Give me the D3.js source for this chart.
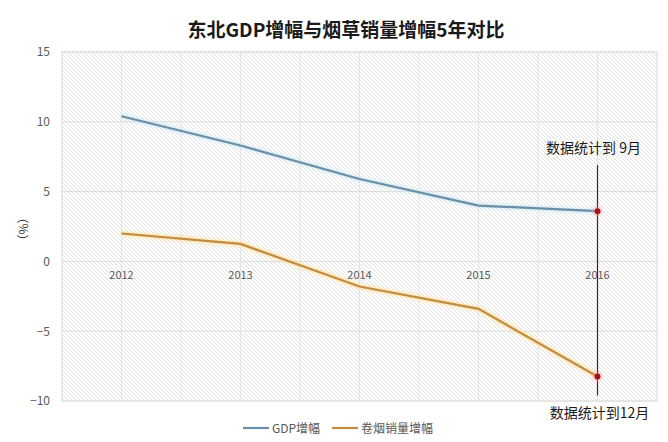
<!DOCTYPE html>
<html><head><meta charset="utf-8">
<script src="https://cdn.jsdelivr.net/npm/d3@7"></script>
<style>html,body{margin:0;padding:0;background:#fff;}svg{display:block;}</style>
</head><body>
<svg id="chart" width="668" height="442"></svg>
<script>
const categories = ["2012","2013","2014","2015","2016"];
const gdpGrowth = [10.4, 8.3, 5.9, 4.0, 3.6];
const tobaccoGrowth = [2.0, 1.25, -1.8, -3.4, -8.25];
const yTicks = [-10, -5, 0, 5, 10, 15];
const seriesNames = ["GDP增幅", "卷烟销量增幅"];
const titleText = "东北GDP增幅与烟草销量增幅5年对比";
const noteTop = "数据统计到 9月";
const noteBottom = "数据统计到12月";

(function () {
const svg = d3.select("#chart");
const font = "'Microsoft YaHei','Noto Sans CJK SC',sans-serif";
const pLeft = 62, pRight = 657, pTop = 52, pBottom = 401;

const x = d3.scaleBand().domain(categories).range([pLeft, pRight]).padding(0);
const y = d3.scaleLinear().domain([-10, 15]).range([pBottom, pTop]);

// hatch pattern
const defs = svg.append("defs");
const pat = defs.append("pattern").attr("id", "hatch").attr("patternUnits", "userSpaceOnUse")
  .attr("width", 4).attr("height", 4);
pat.append("rect").attr("width", 4).attr("height", 4).attr("fill", "#fff");
pat.append("path").attr("d", "M-1,-1 L5,5 M-1,3 L1,5 M3,-1 L5,1").attr("stroke", "#dadada").attr("stroke-width", 0.8);

const glowB = defs.append("filter").attr("id", "glowB").attr("x", "-5%").attr("y", "-20%").attr("width", "110%").attr("height", "140%");
glowB.append("feGaussianBlur").attr("stdDeviation", 1.5);

svg.append("rect").attr("x", pLeft).attr("y", pTop).attr("width", pRight - pLeft).attr("height", pBottom - pTop)
  .attr("fill", "url(#hatch)").attr("stroke", "#e4e4e4");

// gridlines: vertical every half band
const half = x.bandwidth() / 2;
const vx = [];
for (let i = 0; i <= categories.length * 2; i++) vx.push(pLeft + i * half);
svg.append("g").selectAll("line").data(vx).join("line")
  .attr("x1", d => d).attr("x2", d => d).attr("y1", pTop).attr("y2", pBottom)
  .attr("stroke", "#e4e4e4").attr("stroke-width", 1);
svg.append("g").selectAll("line").data(yTicks).join("line")
  .attr("x1", pLeft).attr("x2", pRight).attr("y1", d => y(d)).attr("y2", d => y(d))
  .attr("stroke", "#dcdcdc").attr("stroke-width", 1);

// y axis labels
const yAxis = d3.axisLeft(y).tickValues(yTicks).tickSize(0).tickPadding(0);
const yg = svg.append("g").attr("transform", `translate(${pLeft - 12},0)`).call(yAxis);
yg.select(".domain").remove();
yg.selectAll("text").attr("font-family", font).attr("font-size", 12).attr("fill", "#595959");

// x axis labels at y=0
const xAxis = d3.axisBottom(x).tickSize(0).tickPadding(10);
const xg = svg.append("g").attr("transform", `translate(0,${y(0)})`).call(xAxis);
xg.select(".domain").remove();
xg.selectAll("text").attr("font-family", font).attr("font-size", 11).attr("fill", "#595959");

// lines
const line = d3.line().x((d, i) => x(categories[i]) + half).y(d => y(d));
svg.append("path").datum(gdpGrowth).attr("d", line).attr("fill", "none")
  .attr("stroke", "#c6e6f2").attr("stroke-width", 5).attr("opacity", 0.7).attr("filter", "url(#glowB)");
svg.append("path").datum(gdpGrowth).attr("d", line).attr("fill", "none")
  .attr("stroke", "#6a8fa6").attr("stroke-width", 2.2);
svg.append("path").datum(tobaccoGrowth).attr("d", line).attr("fill", "none")
  .attr("stroke", "#ffe2a6").attr("stroke-width", 5.5).attr("opacity", 0.8).attr("filter", "url(#glowB)");
svg.append("path").datum(tobaccoGrowth).attr("d", line).attr("fill", "none")
  .attr("stroke", "#c28c42").attr("stroke-width", 2.2);

// red vertical marker at 2016
const lastCat = categories[categories.length - 1];
const mx = x(lastCat) + half;
svg.append("line").attr("x1", mx).attr("x2", mx).attr("y1", y(6.9)).attr("y2", y(-9.6))
  .attr("stroke", "#6e0f0f").attr("stroke-width", 1.2);
const lastVals = [gdpGrowth[gdpGrowth.length - 1], tobaccoGrowth[tobaccoGrowth.length - 1]];
svg.append("g").selectAll("circle.glow").data(lastVals).join("circle")
  .attr("cx", mx).attr("cy", d => y(d)).attr("r", 5.5).attr("fill", "#f4a8a8").attr("opacity", 0.45).attr("filter", "url(#glowB)");
svg.append("g").selectAll("circle.dot").data(lastVals).join("circle")
  .attr("cx", mx).attr("cy", d => y(d)).attr("r", 3).attr("fill", "#a5121c");

// annotations
svg.append("text").attr("x", mx - 4).attr("y", y(7.75)).attr("text-anchor", "middle")
  .attr("font-family", font).attr("font-size", 14).attr("fill", "#1a1a1a").text(noteTop);
svg.append("text").attr("x", mx + 2).attr("y", 418).attr("text-anchor", "middle")
  .attr("font-family", font).attr("font-size", 14).attr("fill", "#1a1a1a").text(noteBottom);

// title
svg.append("text").attr("x", 346).attr("y", 37).attr("text-anchor", "middle")
  .attr("font-family", font).attr("font-size", 19).attr("font-weight", "bold").attr("fill", "#1a1a1a").text(titleText);

// y-axis unit label
svg.append("text").attr("transform", "translate(28,229) rotate(-90)").attr("text-anchor", "middle")
  .attr("font-family", font).attr("font-size", 12).attr("fill", "#333").text("（%）");

// legend
const legendColors = ["#6a8fa6", "#c28c42"];
const legendX = [243, 332];
const lg = svg.append("g").selectAll("g").data(seriesNames).join("g")
  .attr("transform", (d, i) => `translate(${legendX[i]},428)`);
lg.append("line").attr("x1", 0).attr("x2", 26).attr("y1", 0).attr("y2", 0)
  .attr("stroke", (d, i) => legendColors[i]).attr("stroke-width", 2.2);
lg.append("text").attr("x", 29).attr("y", 4.5).attr("font-family", font).attr("font-size", 12)
  .attr("fill", "#595959").text(d => d);
})();
</script>
</body></html>
